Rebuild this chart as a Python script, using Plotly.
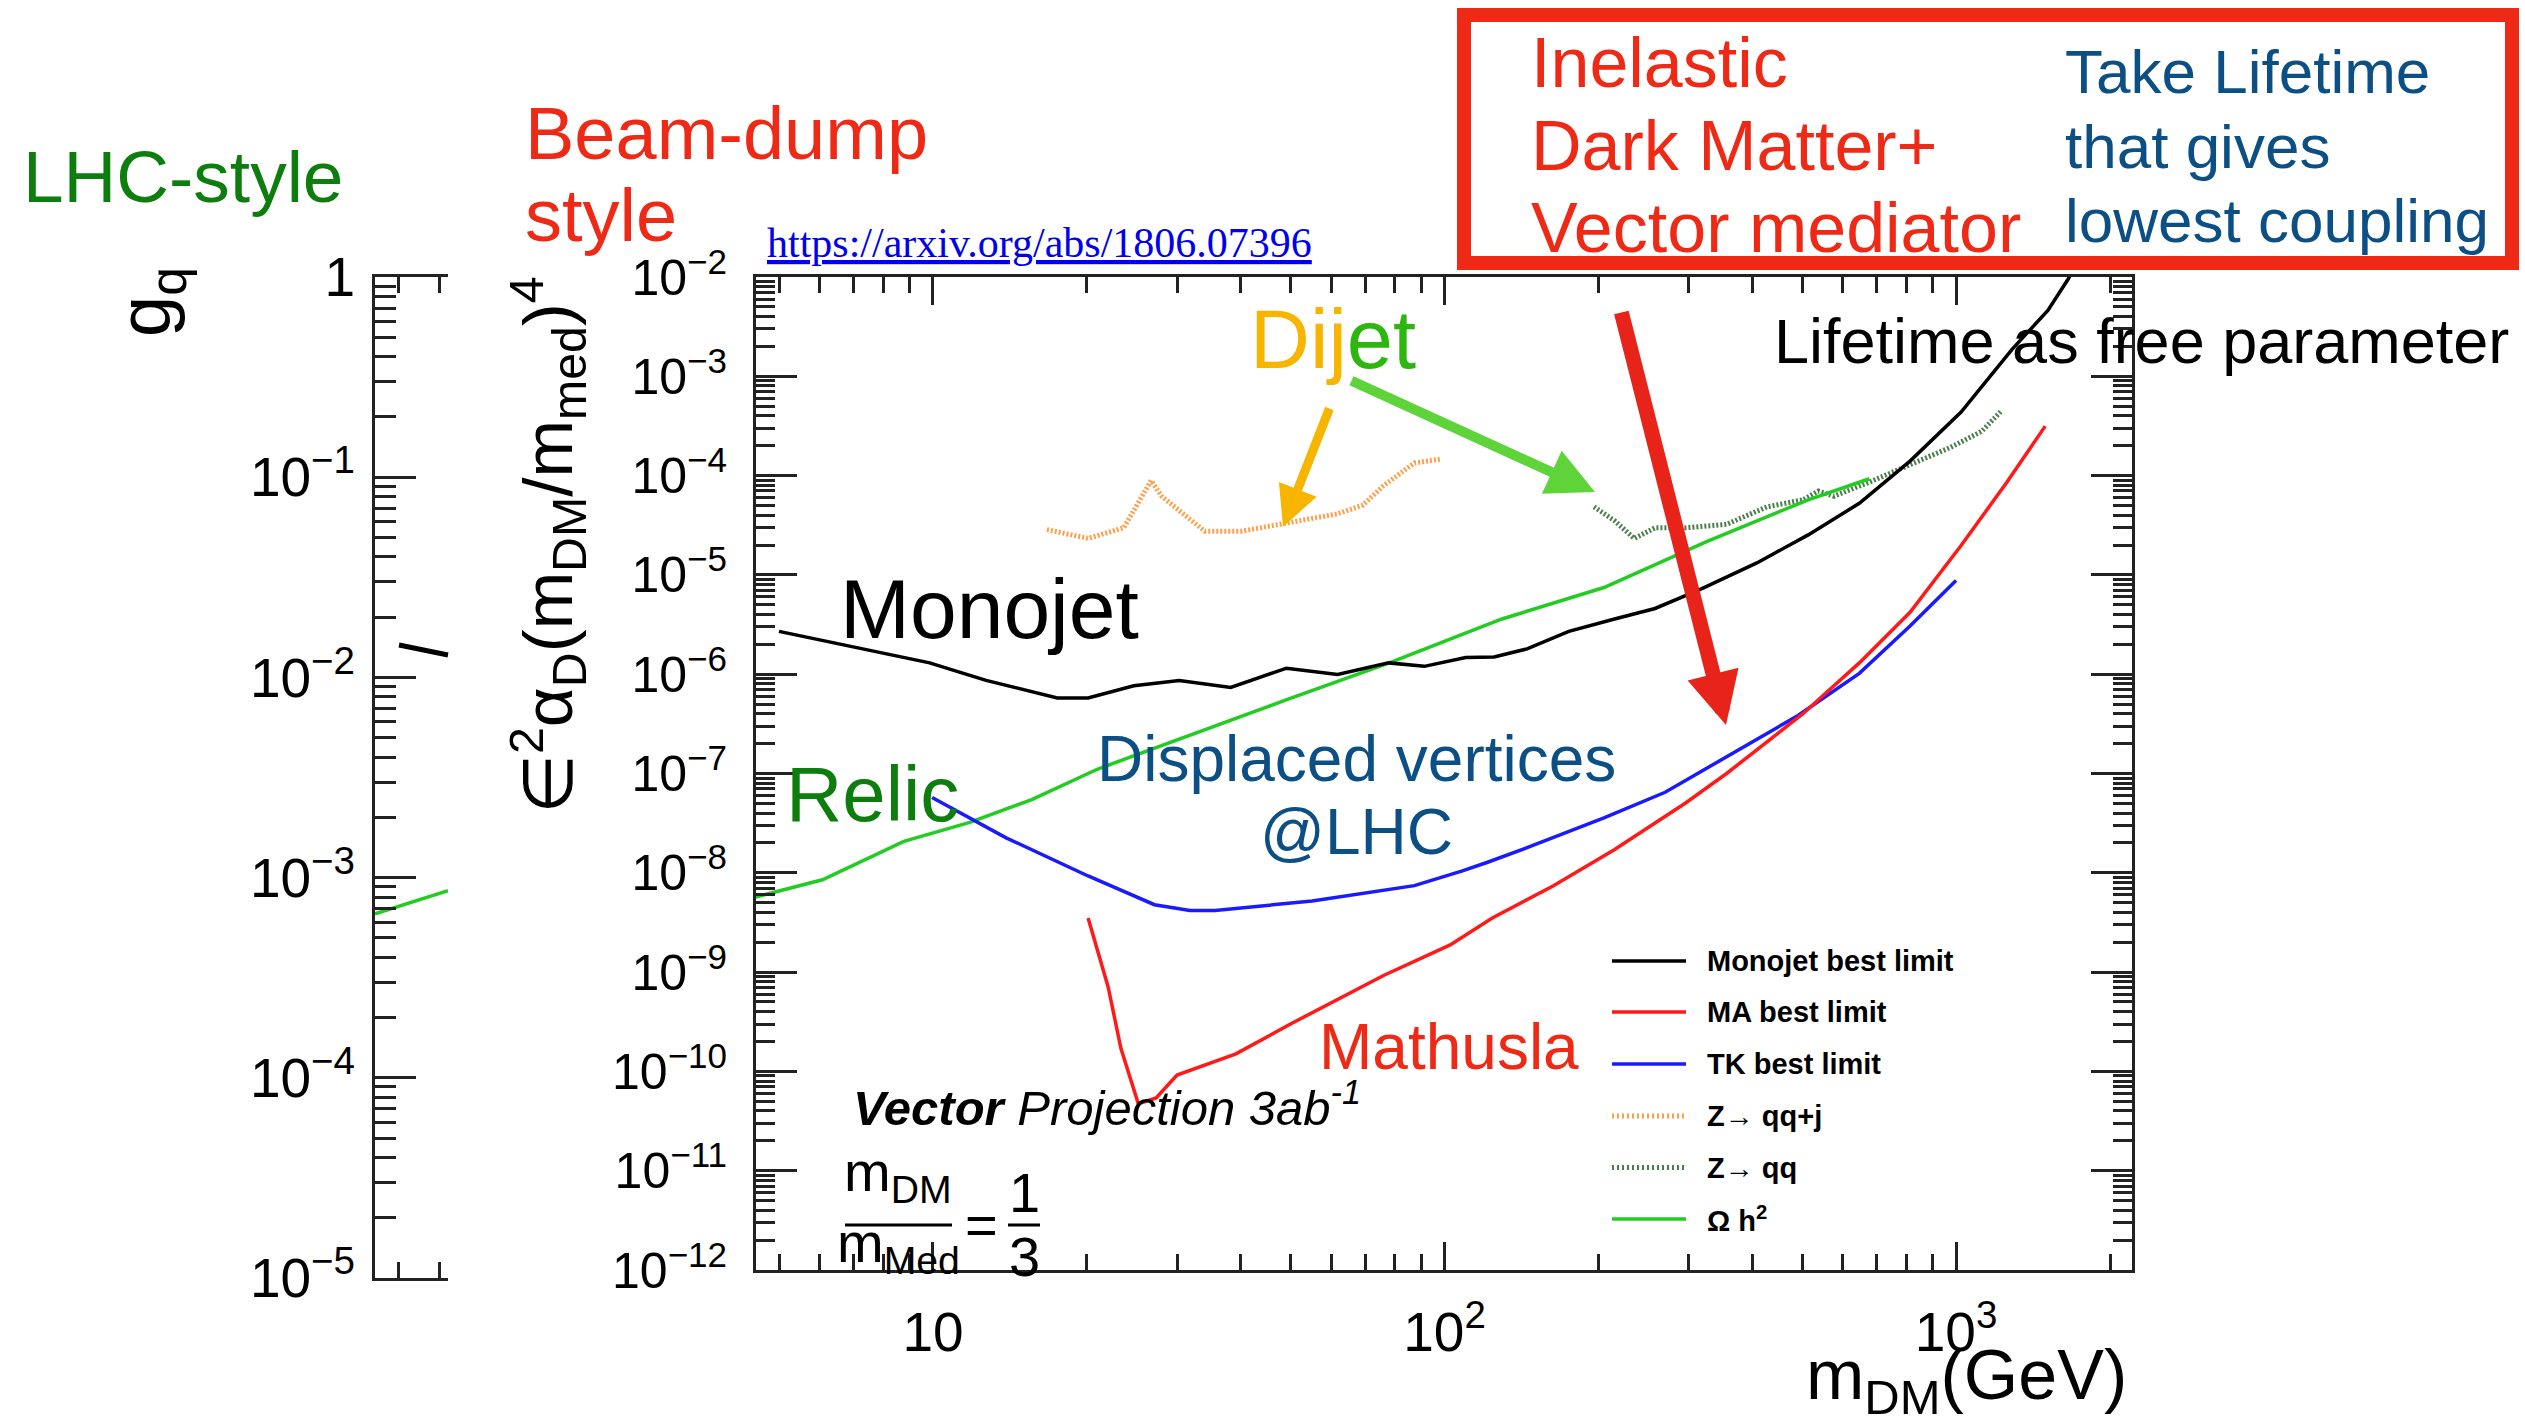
import plotly.graph_objects as go

W, H = 2525, 1418

# ---------------- data ----------------
monojet_mass = [5.0, 6.98, 9.85, 12.7, 17.5, 20.1, 24.7, 30.3, 38.2, 49.1, 61.8, 77.8, 91.3, 110, 125,
                145, 175, 215, 258, 317, 408, 514, 647, 813, 1023, 1288, 1512, 1658, 1750]
monojet_limit = [2.7e-6, 1.87e-6, 1.30e-6, 8.67e-7, 5.75e-7, 5.75e-7, 7.66e-7, 8.66e-7, 7.37e-7, 1.15e-6,
                 9.93e-7, 1.30e-6, 1.20e-6, 1.47e-6, 1.49e-6, 1.80e-6, 2.70e-6, 3.60e-6, 4.59e-6, 7.18e-6,
                 1.32e-5, 2.53e-5, 5.26e-5, 1.40e-4, 4.36e-4, 1.88e-3, 4.6e-3, 9.6e-3, 1.6e-2]

ma_mass = [20.1, 22.0, 23.3, 25.2, 27.3, 30.0, 39.1, 50.3, 76, 102.6, 124, 163, 214.7, 296, 356, 502,
           647, 813, 1023, 1258, 1494]
ma_limit = [3.5e-9, 7.08e-10, 1.71e-10, 4.73e-11, 5.4e-11, 9.2e-11, 1.5e-10, 3.05e-10, 9.24e-10, 1.88e-9,
            3.5e-9, 7.36e-9, 1.71e-8, 5.05e-8, 1.0e-7, 4.0e-7, 1.3e-6, 4.2e-6, 1.98e-5, 8.6e-5, 3.15e-4]

tk_mass = [9.96, 13.9, 20.1, 27.1, 31.8, 35.6, 55.1, 87.3, 108, 121, 145, 205, 270, 340, 491, 647, 813, 1000]
tk_limit = [5.73e-8, 2.25e-8, 9.29e-9, 4.77e-9, 4.18e-9, 4.18e-9, 5.2e-9, 7.43e-9, 1.04e-8, 1.27e-8,
            1.79e-8, 3.57e-8, 6.47e-8, 1.29e-7, 3.84e-7, 1.02e-6, 3.06e-6, 8.8e-6]

zqqj_mass = [16.7, 20.1, 23.6, 25.2, 26.7, 28.0, 30.3, 34.0, 40.0, 49.1, 61.8, 69.3, 76, 87.3, 97.9]
zqqj_limit = [2.86e-5, 2.33e-5, 2.98e-5, 5.26e-5, 8.93e-5, 6.19e-5, 4.48e-5, 2.75e-5, 2.75e-5, 3.37e-5,
              4.12e-5, 5.06e-5, 7.91e-5, 1.34e-4, 1.46e-4]

zqq_mass = [196, 215, 235, 258, 296, 356, 427, 502, 538, 577, 677, 813, 977, 1122, 1230]
zqq_limit = [4.85e-5, 3.51e-5, 2.33e-5, 2.98e-5, 2.98e-5, 3.23e-5, 4.85e-5, 5.7e-5, 7.0e-5, 6.2e-5,
             8.6e-5, 1.29e-4, 1.93e-4, 2.79e-4, 4.55e-4]

relic_mass = [4.5, 6.08, 8.77, 11.8, 15.6, 21.0, 49, 78, 129.5, 205, 324.5, 514, 677]
relic_limit = [5.7e-9, 8.5e-9, 2.07e-8, 3.22e-8, 5.47e-8, 1.11e-7, 5.5e-7, 1.3e-6, 3.6e-6, 7.46e-6,
               2.15e-5, 5.71e-5, 9.3e-5]

gq_pos = [0, 1]
gq_relic = [6.6e-4, 8.6e-4]

x_ticks = [10, 100, 1000]
x_ticktext = ["10", "10<sup>2</sup>", "10<sup>3</sup>"]
y_ticks = [10.0 ** e for e in range(-12, -1)]
y_ticktext = ["10<sup>\u2212%d</sup>" % (-e) for e in range(-12, -1)]
gq_ticks = [10.0 ** e for e in range(-5, 1)]
gq_ticktext = ["10<sup>\u2212%d</sup>" % (-e) for e in range(-5, 0)] + ["1"]

legend_labels = ["Monojet best limit", "MA best limit", "TK best limit", "Z\u2192 qq+j", "Z\u2192 qq",
                 "\u03a9 h<sup>2</sup>"]

# ---------------- styles ----------------
SANS = "Liberation Sans, Arial, Helvetica, sans-serif"
SERIF = "Liberation Serif, Times New Roman, serif"
RED = "#ee2a16"
DKGREEN = "#0d7d0d"
DKBLUE = "#0c4f84"
AX = "#222222"

C_MONO = "#000000"
C_MA = "#ff1a1a"
C_TK = "#1a1aff"
C_RELIC = "#22cc22"
C_ZQQJ = "#ff9f4a"
C_ZQQ = "#4a7f4a"


def X(p):
    return p / W


def Y(p):
    return 1 - p / H


fig = go.Figure()
fig.add_trace(go.Scatter(x=zqqj_mass, y=zqqj_limit, mode="lines", name="Z\u2192 qq+j",
                         line=dict(color=C_ZQQJ, width=5, dash="2px,2px")))
fig.add_trace(go.Scatter(x=zqq_mass, y=zqq_limit, mode="lines", name="Z\u2192 qq",
                         line=dict(color=C_ZQQ, width=5, dash="2px,2px")))
fig.add_trace(go.Scatter(x=relic_mass, y=relic_limit, mode="lines", name="\u03a9 h\u00b2",
                         line=dict(color=C_RELIC, width=3.5)))
fig.add_trace(go.Scatter(x=monojet_mass, y=monojet_limit, mode="lines", name="Monojet best limit",
                         line=dict(color=C_MONO, width=3.5)))
fig.add_trace(go.Scatter(x=tk_mass, y=tk_limit, mode="lines", name="TK best limit",
                         line=dict(color=C_TK, width=3.5)))
fig.add_trace(go.Scatter(x=ma_mass, y=ma_limit, mode="lines", name="MA best limit",
                         line=dict(color=C_MA, width=3.5)))
fig.add_trace(go.Scatter(x=gq_pos, y=gq_relic, mode="lines", name="relic (g_q)",
                         line=dict(color=C_RELIC, width=3.5), xaxis="x2", yaxis="y2"))

x_minor = [k * 10 ** n for n in range(0, 4) for k in range(2, 10) if 4.5 < k * 10 ** n < 2200]
y_minor = [k * 10.0 ** n for n in range(-12, -2) for k in range(2, 10)]
gq_minor = [k * 10.0 ** n for n in range(-5, 0) for k in range(2, 10)]

common = dict(showline=True, linecolor=AX, linewidth=3, showgrid=False, zeroline=False,
              ticks="inside", tickcolor=AX, tickwidth=2.5, automargin=False)

fig.update_layout(
    width=W, height=H, margin=dict(l=0, r=0, t=0, b=0, pad=0, autoexpand=False),
    paper_bgcolor="white", plot_bgcolor="white", showlegend=False,
    xaxis=dict(type="log", range=[0.654, 3.344], domain=[X(756), X(2132)], anchor="y",
               mirror="allticks", ticklen=28, tickmode="array", tickvals=x_ticks, ticktext=x_ticktext,
               tickfont=dict(size=55, family=SANS, color="black"), ticklabelstandoff=12,
               minor=dict(tickmode="array", tickvals=x_minor, ticks="inside", ticklen=16,
                          tickcolor=AX, tickwidth=2.5),
               **common),
    yaxis=dict(type="log", range=[-12, -2], domain=[Y(1270), Y(277)], anchor="x",
               mirror="allticks", ticklen=41, tickmode="array", tickvals=y_ticks, ticktext=y_ticktext,
               tickfont=dict(size=50, family=SANS, color="black"), ticklabelstandoff=16,
               minor=dict(tickmode="array", tickvals=y_minor, ticks="inside", ticklen=19,
                          tickcolor=AX, tickwidth=2.5),
               **common),
    xaxis2=dict(range=[0, 1], domain=[X(375), X(448)], anchor="y2", mirror="ticks", ticklen=16,
                tickmode="array", tickvals=[0.315, 0.877], showticklabels=False, **common),
    yaxis2=dict(type="log", range=[-5, 0], domain=[Y(1278), Y(277)], anchor="x2", mirror=False,
                ticklen=41, tickmode="array", tickvals=gq_ticks, ticktext=gq_ticktext,
                tickfont=dict(size=55, family=SANS, color="black"), ticklabelstandoff=6,
                minor=dict(tickmode="array", tickvals=gq_minor, ticks="inside", ticklen=21,
                           tickcolor=AX, tickwidth=2.5),
                **common),
)


def txt(s, x, y, size, color, xanchor="left", yanchor="middle", family=SANS, angle=0):
    return dict(text=s, x=X(x), y=Y(y), xref="paper", yref="paper", xanchor=xanchor, yanchor=yanchor,
                showarrow=False, font=dict(size=size, color=color, family=family), textangle=angle)


def arrow(x0, y0, x1, y1, color, width, size):
    return dict(text="", x=X(x1), y=Y(y1), xref="paper", yref="paper", axref="pixel", ayref="pixel",
                ax=x0 - x1, ay=y0 - y1, showarrow=True, arrowhead=2, arrowsize=size,
                arrowwidth=width, arrowcolor=color, standoff=0)


ann = [
    txt("LHC-style", 21, 176, 73, DKGREEN),
    txt("Beam-dump", 523, 134, 74, RED),
    txt("style", 523, 216, 74, RED),
    txt("<u>https://arxiv.org/abs/1806.07396</u>", 765, 243, 42, "#0000ee", family=SERIF),
    txt("Inelastic", 1529, 63, 70, RED),
    txt("Dark Matter+", 1529, 146, 70, RED),
    txt("Vector mediator", 1529, 228, 70, RED),
    txt("Take Lifetime", 2063, 71, 62, DKBLUE),
    txt("that gives", 2063, 146, 62, DKBLUE),
    txt("lowest coupling", 2063, 221, 62, DKBLUE),
    txt("Lifetime as free parameter", 1772, 341, 63, "black"),
    txt('<span style="color:#f7b500">Dij</span><span style="color:#2db60f">et</span>', 1248, 340, 83,
        "#f7b500"),
    txt("Monojet", 838, 609, 84, "black"),
    txt("Relic", 784, 794, 78, DKGREEN),
    txt("Displaced vertices", 1356, 759, 64, DKBLUE, xanchor="center"),
    txt("@LHC", 1356, 832, 64, DKBLUE, xanchor="center"),
    txt("Mathusla", 1317, 1047, 64, RED),
    txt("<b><i>Vector</i></b><i> Projection 3ab<sup>-1</sup></i>", 851, 1104, 49, "black"),
    txt("m<sub>DM</sub>", 898, 1175, 56, "black", xanchor="center"),
    txt("m<sub>Med</sub>", 898, 1246, 56, "black", xanchor="center"),
    txt("=", 981, 1224, 56, "black", xanchor="center"),
    txt("1", 1024, 1192, 56, "black", xanchor="center"),
    txt("3", 1024, 1256, 56, "black", xanchor="center"),
    txt("\u2208<sup>2</sup>\u03b1<sub>D</sub>(m<sub>DM</sub>/m<sub>med</sub>)<sup>4</sup>", 548, 545, 69,
        "black", xanchor="center", angle=-90),
    txt("g<sub>q</sub>", 150, 302, 74, "black", xanchor="center", angle=-90),
    txt("m<sub>DM</sub>(GeV)", 2129, 1380, 70, "black", xanchor="right"),
    arrow(1330, 407, 1283, 527, "#f7b500", 9, 0.9),
    arrow(1350, 380, 1595, 492, "#5fd43a", 10, 0.95),
    arrow(1621, 311, 1726, 725, "#e8231a", 15, 0.7),
]

legend_rows = [961, 1012, 1064, 1116, 1167.5, 1219]
legend_styles = [(C_MONO, "solid", 3.5), (C_MA, "solid", 3.5), (C_TK, "solid", 3.5),
                 (C_ZQQJ, "2px,3px", 5), (C_ZQQ, "2px,3px", 5), (C_RELIC, "solid", 3.5)]
shapes = []
for lab, yy, (col, dash, lw) in zip(legend_labels, legend_rows, legend_styles):
    ann.append(txt("<b>%s</b>" % lab, 1705, yy, 29, "black"))
    shapes.append(dict(type="line", xref="paper", yref="paper", x0=X(1612), x1=X(1686), y0=Y(yy), y1=Y(yy),
                       line=dict(color=col, width=lw, dash=dash)))

shapes += [
    dict(type="rect", xref="paper", yref="paper", x0=X(1464), x1=X(2512), y0=Y(263), y1=Y(15),
         line=dict(color=RED, width=14), fillcolor="rgba(0,0,0,0)"),
    dict(type="line", xref="paper", yref="paper", x0=X(399), x1=X(448), y0=Y(645), y1=Y(655),
         line=dict(color="black", width=5)),
    dict(type="line", xref="paper", yref="paper", x0=X(845), x1=X(952), y0=Y(1225), y1=Y(1225),
         line=dict(color="black", width=3)),
    dict(type="line", xref="paper", yref="paper", x0=X(1008), x1=X(1040), y0=Y(1225), y1=Y(1225),
         line=dict(color="black", width=3)),
]

fig.update_layout(annotations=ann, shapes=shapes)
fig.write_html("out.html", config={"displayModeBar": False},
               post_script="document.body.style.margin='0';document.body.style.overflow='hidden';")
